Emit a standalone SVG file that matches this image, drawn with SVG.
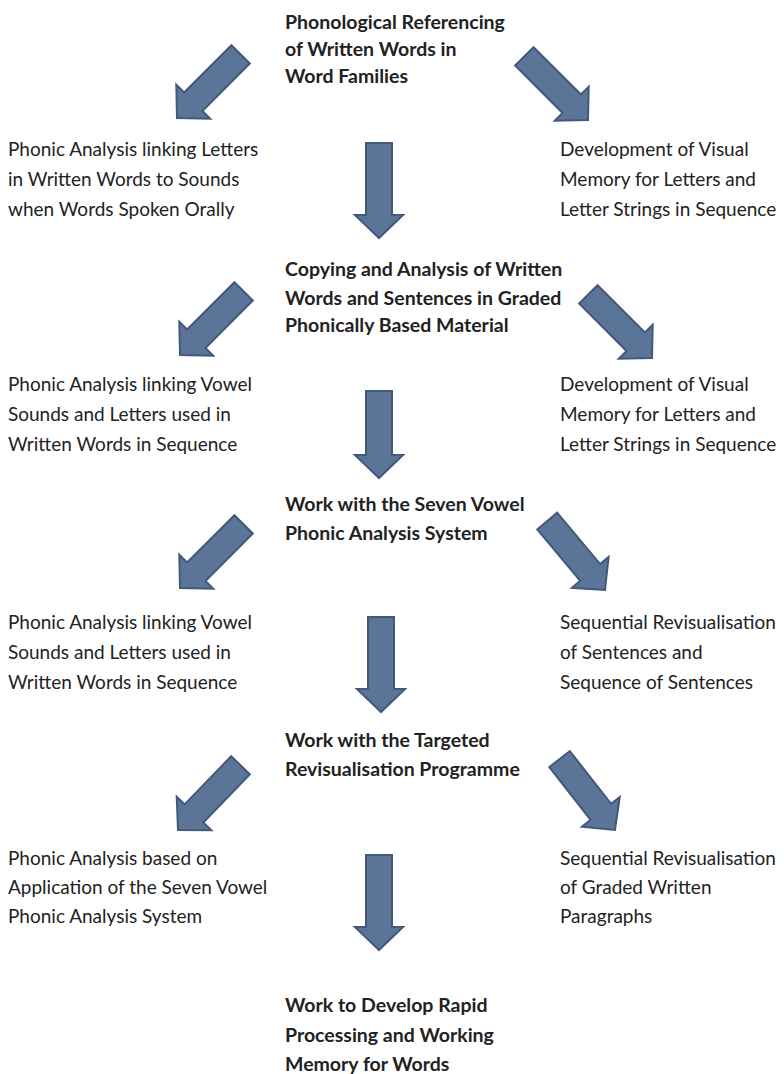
<svg xmlns="http://www.w3.org/2000/svg" width="784" height="1074" viewBox="0 0 784 1074">
<style>
text { font-family: Lato, "Open Sans", "Liberation Sans", sans-serif; font-size: 19px; fill: #222; }
.b { font-weight: bold; font-size: 19.5px; }
.arrow { fill: #5b7599; stroke: #44597a; stroke-width: 2; stroke-linejoin: miter; }
</style>
<defs>
<path id="down" d="M-13,-95 L13,-95 L13,-23 L24,-23 L0,0 L-24,-23 L-13,-23 Z"/>
<path id="diag" d="M-13,-90 L13,-90 L13,-23 L24,-23 L0,0 L-24,-23 L-13,-23 Z"/>
<path id="short" d="M-13,-87 L13,-87 L13,-23 L24,-23 L0,0 L-24,-23 L-13,-23 Z"/>
</defs>
<rect width="784" height="1074" fill="#fff"/>
<g id="connectors">
<use href="#diag" class="arrow" transform="translate(177,118) rotate(45)"/>
<use href="#diag" class="arrow" transform="translate(588,120) rotate(-45)"/>
<use href="#down" class="arrow" transform="translate(379,238)"/>
<use href="#diag" class="arrow" transform="translate(180,355) rotate(45)"/>
<use href="#diag" class="arrow" transform="translate(652,358) rotate(-45)"/>
<use href="#short" class="arrow" transform="translate(379,478)"/>
<use href="#diag" class="arrow" transform="translate(180,588) rotate(45)"/>
<use href="#diag" class="arrow" transform="translate(605,590) rotate(-40)"/>
<use href="#down" class="arrow" transform="translate(381,712)"/>
<use href="#diag" class="arrow" transform="translate(178,830) rotate(44)"/>
<use href="#diag" class="arrow" transform="translate(615,830) rotate(-38)"/>
<use href="#down" class="arrow" transform="translate(379,950)"/>
</g>
<g id="n1"><text class="b" x="285" y="29">Phonological Referencing</text><text class="b" x="285" y="56">of Written Words in</text><text class="b" x="285" y="83">Word Families</text></g>
<g id="n1l"><text x="8" y="156">Phonic Analysis linking Letters</text><text x="8" y="186">in Written Words to Sounds</text><text x="8" y="216">when Words Spoken Orally</text></g>
<g id="n1r"><text x="560" y="156">Development of Visual</text><text x="560" y="186">Memory for Letters and</text><text x="560" y="216">Letter Strings in Sequence</text></g>
<g id="n2"><text class="b" x="285" y="276">Copying and Analysis of Written</text><text class="b" x="285" y="305">Words and Sentences in Graded</text><text class="b" x="285" y="332">Phonically Based Material</text></g>
<g id="n2l"><text x="8" y="391">Phonic Analysis linking Vowel</text><text x="8" y="421">Sounds and Letters used in</text><text x="8" y="451">Written Words in Sequence</text></g>
<g id="n2r"><text x="560" y="391">Development of Visual</text><text x="560" y="421">Memory for Letters and</text><text x="560" y="451">Letter Strings in Sequence</text></g>
<g id="n3"><text class="b" x="285" y="511">Work with the Seven Vowel</text><text class="b" x="285" y="540">Phonic Analysis System</text></g>
<g id="n3l"><text x="8" y="629">Phonic Analysis linking Vowel</text><text x="8" y="659">Sounds and Letters used in</text><text x="8" y="689">Written Words in Sequence</text></g>
<g id="n3r"><text x="560" y="629">Sequential Revisualisation</text><text x="560" y="659">of Sentences and</text><text x="560" y="689">Sequence of Sentences</text></g>
<g id="n4"><text class="b" x="285" y="747">Work with the Targeted</text><text class="b" x="285" y="776">Revisualisation Programme</text></g>
<g id="n4l"><text x="8" y="865">Phonic Analysis based on</text><text x="8" y="894">Application of the Seven Vowel</text><text x="8" y="923">Phonic Analysis System</text></g>
<g id="n4r"><text x="560" y="865">Sequential Revisualisation</text><text x="560" y="894">of Graded Written</text><text x="560" y="923">Paragraphs</text></g>
<g id="n5"><text class="b" x="285" y="1012">Work to Develop Rapid</text><text class="b" x="285" y="1042">Processing and Working</text><text class="b" x="285" y="1071">Memory for Words</text></g>
</svg>
